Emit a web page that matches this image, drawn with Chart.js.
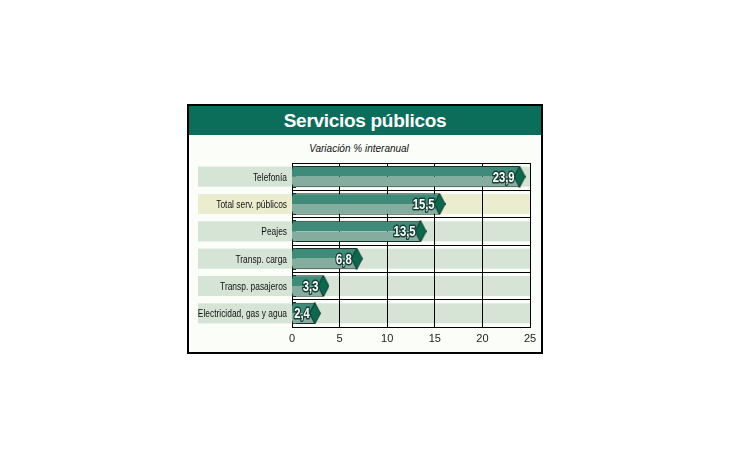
<!DOCTYPE html>
<html><head><meta charset="utf-8">
<script src="https://cdn.jsdelivr.net/npm/chart.js@4"></script>
<style>
html,body{margin:0;padding:0;background:#fff;width:730px;height:460px;overflow:hidden;}
#frame{position:absolute;left:187px;top:104px;width:356px;height:250px;border:2px solid #000;box-sizing:border-box;background:#fbfdf9;}
#hdr{position:absolute;left:0;top:0;right:0;height:29px;background:#0b6e5a;color:#fff;font:bold 19px "Liberation Sans",Arial,sans-serif;text-align:center;line-height:29px;letter-spacing:-0.3px;}
#sub{position:absolute;left:0;right:12px;top:37px;text-align:center;font:italic 10px "Liberation Sans",Arial,sans-serif;color:#111;}
#c{position:absolute;left:0;top:0;}
</style></head>
<body>
<div id="frame"><div id="hdr">Servicios públicos</div><div id="sub">Variación % interanual</div></div>
<canvas id="c" width="730" height="460"></canvas>
<script>
const categories = ["Telefonía","Total serv. públicos","Peajes","Transp. carga","Transp. pasajeros","Electricidad, gas y agua"];
const values = [23.9, 15.5, 13.5, 6.8, 3.3, 2.4];
const baseValues = [0, 0, 0, 0, 0, 0];
const valueLabels = ["23,9","15,5","13,5","6,8","3,3","2,4"];
const xTicks = [0,5,10,15,20,25];
const bandColors = ["#d6e4d6","#ecedcf","#d6e4d6","#d6e4d6","#d6e4d6","#d6e4d6"];

// tall diamond marker
const dia = document.createElement('canvas');
dia.width = 12; dia.height = 22;
(function(){const g=dia.getContext('2d');g.beginPath();g.moveTo(6,0.5);g.lineTo(11.5,11);g.lineTo(6,21.5);g.lineTo(0.5,11);g.closePath();g.fillStyle='#0a6a50';g.fill();g.strokeStyle='#0d2a22';g.lineWidth=1;g.stroke();})();
// left chevron marker for bar start
const chev = document.createElement('canvas');
chev.width = 8; chev.height = 22;
(function(){const g=chev.getContext('2d');
  g.beginPath();g.moveTo(8,0.5);g.lineTo(5,0.5);g.lineTo(1,11);g.lineTo(8,11);g.closePath();g.fillStyle='#3f8b79';g.fill();
  g.beginPath();g.moveTo(8,11);g.lineTo(1,11);g.lineTo(5,21.5);g.lineTo(8,21.5);g.closePath();g.fillStyle='#84ad9f';g.fill();
  g.beginPath();g.moveTo(8,0.5);g.lineTo(5,0.5);g.lineTo(1,11);g.lineTo(5,21.5);g.lineTo(8,21.5);g.strokeStyle='#1a2e28';g.lineWidth=1;g.stroke();
})();

function narrowText(ctx, txt, x, y, sx, stroke){
  ctx.save();
  ctx.translate(x, y);
  ctx.scale(sx, 1);
  if (stroke) ctx.strokeText(txt, 0, 0);
  ctx.fillText(txt, 0, 0);
  ctx.restore();
}

const bands = {
  id:'bands',
  beforeDraw(chart){
    const {ctx, chartArea, scales:{y}} = chart;
    ctx.save();
    categories.forEach((c,i)=>{
      const cy = y.getPixelForValue(i);
      ctx.fillStyle = bandColors[i];
      ctx.fillRect(198, cy-10, chartArea.right-198, 20);
    });
    ctx.restore();
  },
  afterDraw(chart){
    const {ctx, chartArea, scales:{y}} = chart;
    ctx.save();
    ctx.font = '10.5px "Liberation Sans",Arial';
    ctx.fillStyle = '#111';
    ctx.textAlign = 'right'; ctx.textBaseline = 'middle';
    categories.forEach((c,i)=>{
      narrowText(ctx, c, chartArea.left - 5, y.getPixelForValue(i)+1, 0.8, false);
    });
    ctx.restore();
  }
};
const vlabels = {
  id:'vlabels',
  afterDatasetsDraw(chart){
    const {ctx, scales:{x,y}} = chart;
    ctx.save();
    ctx.font = 'bold 15px "Liberation Sans",Arial';
    ctx.textAlign='right'; ctx.textBaseline='middle';
    ctx.lineJoin='round';
    ctx.strokeStyle='#163d33'; ctx.lineWidth=3;
    ctx.fillStyle='#fff';
    values.forEach((v,i)=>{
      const px = x.getPixelForValue(v) - 5;
      const py = y.getPixelForValue(i)+1;
      narrowText(ctx, valueLabels[i], px, py, 0.75, true);
    });
    ctx.restore();
  }
};

new Chart(document.getElementById('c'), {
  type:'bar',
  data:{
    labels:categories,
    datasets:[
      {data:values, backgroundColor:'#3f8b79', borderColor:'#1a2e28', borderWidth:{top:1,left:0,right:1,bottom:0}, borderSkipped:false, barPercentage:1, categoryPercentage:0.78, order:3},
      {data:values, backgroundColor:'#84ad9f', borderColor:'#1a2e28', borderWidth:{top:0,left:0,right:1,bottom:1}, borderSkipped:false, barPercentage:1, categoryPercentage:0.78, order:3},
      {type:'line', data:values, showLine:false, pointStyle:dia, pointRadius:6, pointHoverRadius:6, order:1},
      {type:'line', data:baseValues, showLine:false, pointStyle:chev, pointRadius:4, pointHoverRadius:4, order:2}
    ]
  },
  options:{
    indexAxis:'y',
    responsive:false, animation:false,
    devicePixelRatio:1,
    layout:{padding:{left:0,right:200,top:163,bottom:0}},
    plugins:{legend:{display:false}, tooltip:{enabled:false}},
    scales:{
      x:{
        type:'linear', min:0, max:25,
        afterBuildTicks(s){ s.ticks = xTicks.map(v=>({value:v})); },
        afterFit(s){ s.height = 133; },
        grid:{color:'#000', lineWidth:1, drawTicks:false},
        border:{color:'#000', width:1},
        ticks:{padding:5, color:'#222', font:{family:'"Liberation Sans",Arial', size:11}}
      },
      y:{
        afterFit(s){ s.width = 292; },
        grid:{color:'#000', lineWidth:1, offset:true, drawTicks:false},
        border:{color:'#000', width:1},
        ticks:{display:false}
      }
    }
  },
  plugins:[bands, vlabels]
});
</script>
</body></html>
